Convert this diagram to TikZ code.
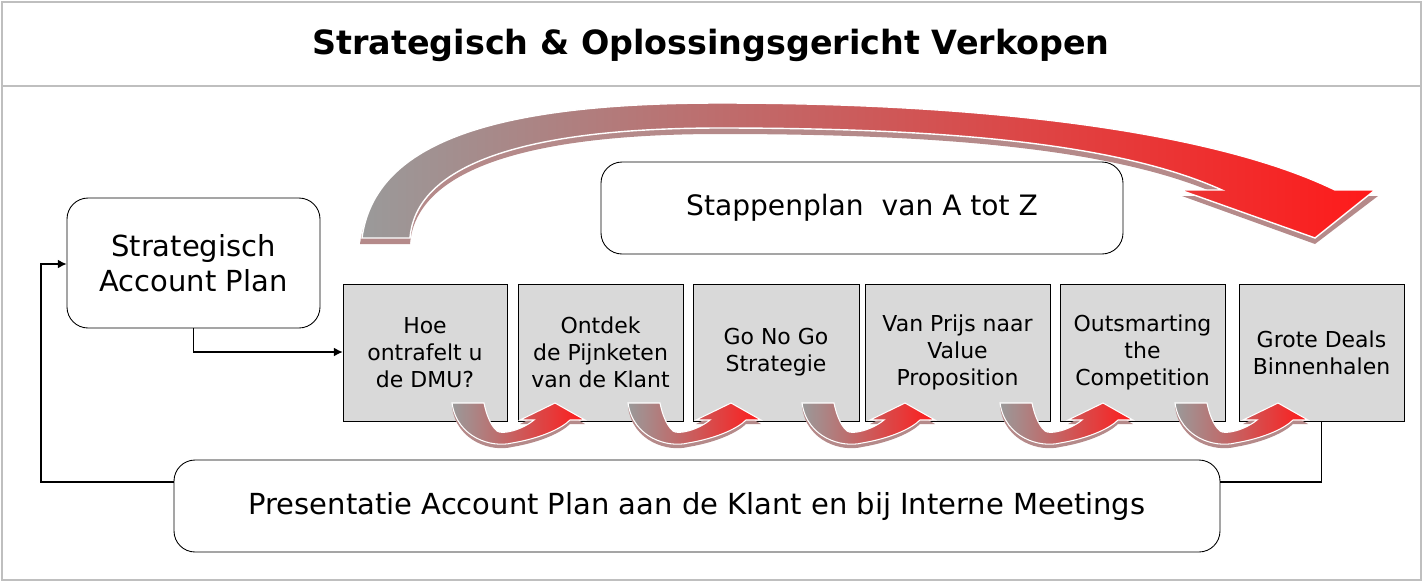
\documentclass[tikz,border=0pt]{standalone}
\usepackage{fontspec}
\setmainfont{DejaVu Sans}
\usetikzlibrary{arrows.meta}
\definecolor{boxgray}{HTML}{D9D9D9}
\definecolor{arrowred}{HTML}{FF1A1A}
\definecolor{arrowgray}{HTML}{9A9A9A}
\definecolor{shadowred}{HTML}{B58A8A}
\tikzset{
    tsRoundBox/.style={draw=black, rounded corners=12pt, fill=white, align=center, line width=0.5pt},
    tsStepBox/.style={draw=black, fill=boxgray, align=center, minimum width=#1, minimum height=137*0.02cm,
                      inner sep=0pt, font=\fontsize{12.5}{15.5}\selectfont},
    tsLink/.style={-{Latex[length=5pt,width=5pt]}, line width=0.6pt}
}
% small curved step arrow, local pixel origin at the left stem top
\newcommand{\stepArrow}[1]{%
    \begin{scope}[shift={(#1,403)}]
        \fill[shadowred] (0,4) .. controls (5,39) and (40,49) .. (60,44) .. controls (90,39) and (110,29) .. (118,21)
            -- (133,21) -- (103,4) -- (68,21) -- (82,21) .. controls (70,31) and (50,36) .. (45,32)
            .. controls (38,26) and (34,14) .. (32,4) -- cycle;
        \shade[left color=arrowgray, right color=arrowred, draw=white, line width=0.6pt]
            (0,0) .. controls (5,35) and (40,45) .. (60,40) .. controls (90,35) and (110,25) .. (118,17)
            -- (133,17) -- (103,0) -- (68,17) -- (82,17) .. controls (70,27) and (50,32) .. (45,28)
            .. controls (38,22) and (34,10) .. (32,0) -- cycle;
    \end{scope}}

\begin{document}
\begin{tikzpicture}[x=0.02cm, y=-0.02cm]

    \useasboundingbox (0,0) rectangle (1424,583);
    \draw[gray!50, line width=1pt] (2,2) rectangle (1421,580);
    \draw[gray!50, line width=1pt] (2,86) -- (1421,86);
    \node[font=\bfseries\fontsize{19}{22}\selectfont] (title) at (711,45) {Strategisch \& Oplossingsgericht Verkopen};

    % big arrow
    \fill[shadowred] (360,244) .. controls (373,146) and (500,109) .. (720,109) .. controls (1000,109) and (1220,140) .. (1335,196)
        -- (1378,196) -- (1315,244) -- (1182,196) -- (1222,196) .. controls (1120,150) and (950,134) .. (720,134)
        .. controls (500,134) and (415,180) .. (410,244) -- cycle;
    \shade[left color=arrowgray, right color=arrowred, draw=white, line width=0.8pt]
        (362,238) .. controls (375,140) and (500,103) .. (720,103) .. controls (1000,103) and (1220,134) .. (1335,190)
        -- (1375,190) -- (1315,238) -- (1180,190) -- (1222,190) .. controls (1120,144) and (950,128) .. (720,128)
        .. controls (500,128) and (415,174) .. (410,238) -- cycle;

    \node[tsRoundBox, minimum width=522*0.02cm, minimum height=92*0.02cm,
          font=\fontsize{16}{19}\selectfont] (stappen) at (862,208) {Stappenplan\ \ van A tot Z};
    \node[tsRoundBox, minimum width=253*0.02cm, minimum height=130*0.02cm,
          font=\fontsize{16.5}{20}\selectfont] (account) at (193.5,263) {Strategisch\\Account Plan};

    \node[tsStepBox=164*0.02cm] (dmu) at (425,352.5) {Hoe\\ontrafelt u\\de DMU?};
    \node[tsStepBox=165*0.02cm] (pijn) at (600.5,352.5) {Ontdek\\de Pijnketen\\van de Klant};
    \node[tsStepBox=166*0.02cm] (gonogo) at (776,352.5) {Go No Go\\Strategie};
    \node[tsStepBox=185*0.02cm] (value) at (957.5,352.5) {Van Prijs naar\\Value\\Proposition};
    \node[tsStepBox=165*0.02cm] (compet) at (1142.5,352.5) {Outsmarting\\the\\Competition};
    \node[tsStepBox=165*0.02cm] (deals) at (1321.5,352.5) {Grote Deals\\Binnenhalen};

    \foreach \x in {452,628,802,1000,1175} {\stepArrow{\x}}

    \node[tsRoundBox, minimum width=1046*0.02cm, minimum height=92*0.02cm,
          font=\fontsize{16.5}{20}\selectfont] (present) at (697,506) {Presentatie Account Plan aan de Klant en bij Interne Meetings};

    \draw[tsLink] (account.south) |- (dmu.west |- 0,352);
    \draw[tsLink] (present.west |- 0,482) -| (41,264) -- (account.west |- 0,264);
    \draw[line width=0.6pt] (deals.south) |- (present.east |- 0,482);

\end{tikzpicture}
\end{document}
